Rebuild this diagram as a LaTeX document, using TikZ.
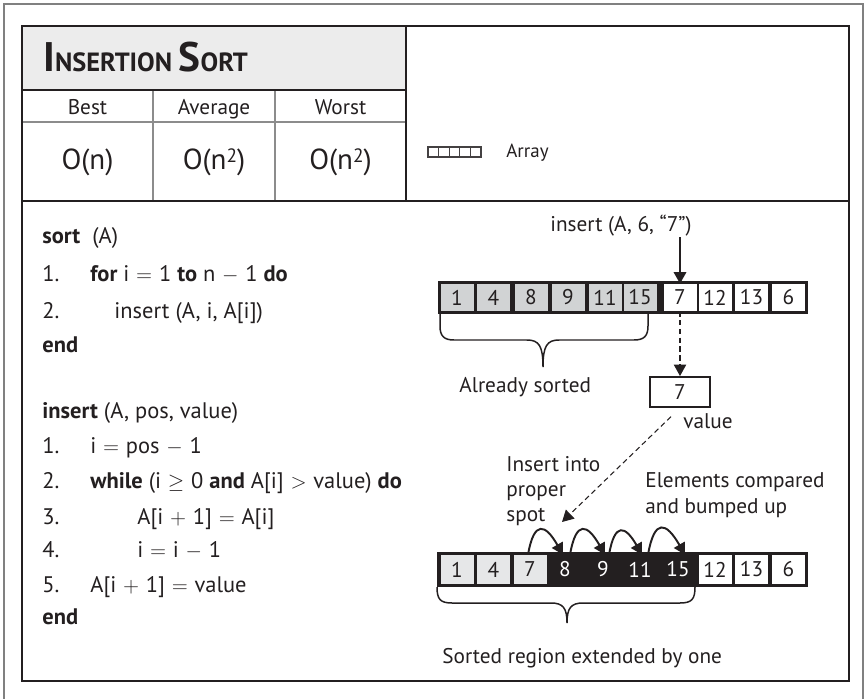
\documentclass[tikz,border=0pt]{standalone}
\usepackage{fontspec}
\setmainfont{PT Sans}
\usetikzlibrary{arrows.meta,positioning}
\definecolor{ink}{HTML}{231F20}
\definecolor{rulegray}{HTML}{8C8C8C}
\definecolor{framegray}{HTML}{808080}
\definecolor{headfill}{HTML}{ECECEC}
\definecolor{cellgray}{HTML}{D1D3D4}
\definecolor{celllight}{HTML}{E6E7E8}
\newcommand{\op}[1]{\hspace{0.3em}$#1$\hspace{0.3em}}
\newcommand{\sqr}{\raisebox{0.55ex}{\fontsize{11}{12}\selectfont 2}}

\begin{document}
\begin{tikzpicture}[x=0.02cm,y=0.02cm,
  every node/.style={inner sep=0pt,text=ink},
  frame/.style={draw=ink,line width=1.1pt},
  grayrule/.style={draw=rulegray,line width=0.8pt},
  lbl/.style={font=\fontsize{12.1}{14.2}\selectfont},
  code/.style={anchor=base west,font=\fontsize{12.8}{14}\selectfont},
  bigo/.style={anchor=base,font=\fontsize{16.5}{19}\selectfont},
  topcell/.style={minimum width=0.66cm,minimum height=0.54cm,font=\fontsize{12.1}{14}\selectfont},
  botcell/.style={minimum width=0.66cm,minimum height=0.58cm,font=\fontsize{12.1}{14}\selectfont},
  tip/.style={-{Triangle[length=6.5pt,width=7pt]}},
  push/.style={tip,draw=ink,line width=1.1pt},
  dashpush/.style={tip,draw=ink,line width=0.6pt,dash pattern=on 3pt off 2pt},
  brace/.style={draw=ink,line width=0.85pt}]
\useasboundingbox (0,0) rectangle (868,-699);

% frames
\draw[framegray,line width=0.8pt] (4,-699) -- (4,-4) -- (863,-4) -- (863,-699);
\fill[headfill] (22,-26) rectangle (406,-90);
\draw[grayrule] (22,-122) -- (406,-122);
\draw[grayrule] (153,-90) -- (153,-201);
\draw[grayrule] (275,-90) -- (275,-201);
\draw[frame] (22,-90) -- (406,-90);
\draw[frame] (406,-26) -- (406,-201);
\draw[frame] (22,-201) -- (849,-201);
\draw[frame] (22,-26) rectangle (849,-681);

% header
\node[anchor=base west,font=\bfseries] (title) at (43,-72)
  {\fontsize{23.5}{25}\selectfont I\fontsize{15}{16}\selectfont NSERTION
   \fontsize{23.5}{25}\selectfont S\fontsize{15}{16}\selectfont ORT};
\node[lbl,anchor=base] (best) at (87.5,-115) {Best};
\node[lbl,anchor=base] (avg) at (214,-115) {Average};
\node[lbl,anchor=base] (worst) at (340.5,-115) {Worst};
\node[bigo] (obest) at (87.5,-170) {O(n)};
\node[bigo] (oavg) at (214,-170) {O(n\sqr)};
\node[bigo] (oworst) at (340.5,-170) {O(n\sqr)};

% legend
\draw[ink!85,line width=0.7pt] (428,-147) rectangle (481,-157);
\foreach \k in {1,...,4}
  \draw[ink!85,line width=0.7pt] (428+10.6*\k,-147) -- (428+10.6*\k,-157);
\node[anchor=base west,font=\fontsize{10.8}{12}\selectfont] (arr) at (506,-158) {Array};

% pseudocode
\node[code] (sorthd) at (42,-243) {\textbf{sort}\ \ (A)};
\node[code] (sn1) at (42,-281) {1.};
\node[code] (sl1) at (90,-281) {\textbf{for} i\op{=}1 \textbf{to} n\op{-}1 \textbf{do}};
\node[code] (sn2) at (42,-318) {2.};
\node[code] (sl2) at (114,-318) {insert (A, i, A[i])};
\node[code] (send) at (42,-352) {\textbf{end}};

\node[code] (inshd) at (42,-418) {\textbf{insert} (A, pos, value)};
\node[code] (in1) at (42,-453) {1.};
\node[code] (il1) at (90,-453) {i\op{=}pos\op{-}1};
\node[code] (in2) at (42,-488) {2.};
\node[code] (il2) at (90,-488) {\textbf{while} (i\op{\geq}0 \textbf{and} A[i]\op{>}value) \textbf{do}};
\node[code] (in3) at (42,-524) {3.};
\node[code] (il3) at (137,-524) {A[i\op{+}1]\op{=}A[i]};
\node[code] (in4) at (42,-557) {4.};
\node[code] (il4) at (137,-557) {i\op{=}i\op{-}1};
\node[code] (in5) at (42,-592) {5.};
\node[code] (il5) at (90,-592) {A[i\op{+}1]\op{=}value};
\node[code] (iend) at (42,-624) {\textbf{end}};

% first array
\fill[ink] (438,-281) rectangle (808,-314);
\foreach \v/\cx in {1/457,4/493.5,8/531,9/568,11/605,15/640}
  \node[topcell,fill=cellgray] (t\v) at (\cx,-297.5) {\v};
\foreach \v/\cx in {7/680,12/715,13/751.5,6/788.5}
  \node[topcell,fill=white] (t\v) at (\cx,-297.5) {\v};

\node[lbl,anchor=base] (call) at (621,-232) {insert (A, 6, “7”)};
\draw[push] (call.south -| t7) -- (t7.north);

\draw[brace] (440,-314) -- (440,-326) .. controls (440,-336) and (444,-340) .. (454,-340)
  -- (527,-340) .. controls (539,-340) and (543,-346) .. (543,-367)
  .. controls (543,-346) and (547,-340) .. (559,-340) -- (634,-340)
  .. controls (644,-340) and (648,-336) .. (648,-326) -- (648,-314);
\node[lbl,anchor=base west] (done) at (459,-392) {Already sorted};

\node[draw=ink,line width=1.1pt,minimum width=1.2cm,minimum height=0.6cm,
  font=\fontsize{12.1}{14}\selectfont] (val) at (680,-392) {7};
\node[lbl,anchor=base west] (vlab) at (683,-428) {value};
\draw[dashpush] (t7.south) -- (val.north);

\coordinate (spot) at (562,-522);
\draw[dashpush,shorten <=0.25cm] (val.south) -- (spot);
\node[lbl,anchor=base west,align=left] (intxt) at (506,-521) {Insert into\\proper\\spot};
\node[anchor=base west,align=left,font=\fontsize{12.1}{14.8}\selectfont] (bump) at (645,-513)
  {Elements compared\\and bumped up};

% second array
\fill[ink] (437,-552) rectangle (808,-587);
\foreach \v/\cx in {1/457,4/493.5,7/530}
  \node[botcell,fill=celllight] (b\v) at (\cx,-569.5) {\v};
\foreach \v/\cx in {8/565,9/603,11/640,15/678}
  \node[botcell,text=white] (b\v) at (\cx,-569.5) {\v};
\foreach \v/\cx in {12/715,13/751.5,6/788.5}
  \node[botcell,fill=white] (b\v) at (\cx,-569.5) {\v};

\foreach \a/\b/\da/\db in {b7/b8/-2/-2,b8/b9/5/2,b9/b11/6/2,b11/b15/8/7}
  \draw[push] ([xshift=\da*0.02cm]\a.north) to[out=80,in=120,looseness=2.6]
    ([xshift=\db*0.02cm]\b.north);

\draw[brace] (437,-587) .. controls (437,-599) and (440,-603) .. (452,-603)
  -- (551,-603) .. controls (563,-603) and (567,-608) .. (567,-623)
  .. controls (567,-608) and (571,-603) .. (583,-603) -- (680,-603)
  .. controls (692,-603) and (695,-599) .. (695,-587);
\node[lbl,anchor=base west] (grown) at (442,-663) {Sorted region extended by one};
\end{tikzpicture}
\end{document}
